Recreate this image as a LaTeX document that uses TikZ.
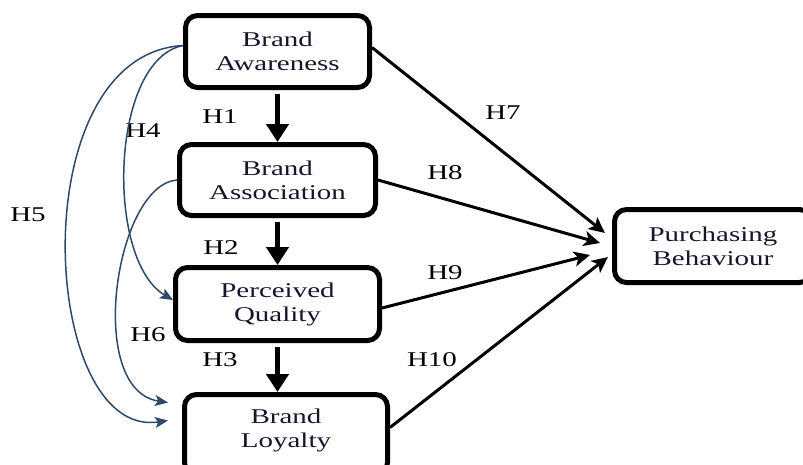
\documentclass[tikz,border=0pt]{standalone}
\usepackage{fontspec}
\setmainfont{Liberation Serif}[FakeStretch=1.38]
\usetikzlibrary{arrows.meta}
\definecolor{txtcol}{HTML}{16162A}
\definecolor{linkcol}{HTML}{2E4A6B}

\begin{document}
\begin{tikzpicture} [
    x=1pt, y=-1pt,
    block/.style    = { rectangle, rounded corners=12pt, draw, line width=5pt,
                        text centered, align=center, inner sep=0pt, text=txtcol,
                        font=\fontsize{21}{24}\selectfont },
    hyp/.style      = { inner sep=0pt, font=\fontsize{21}{24}\selectfont },
    main/.style     = { draw, line width=5pt, shorten <=4pt,
                        -{Triangle[length=18pt,width=22pt]} },
    line/.style     = { draw, line width=3pt,
                        -{Stealth[length=16pt,width=15pt,inset=4pt]} },
    link/.style     = { draw=linkcol, line width=1.5pt,
                        -{Stealth[length=13pt,width=11pt,inset=3pt]} },
  ]
  \useasboundingbox (0,0) rectangle (803,464);

  % constructs
  \node[block, minimum width=184pt, minimum height=72pt] (ba)  at (277.5,51.5) {Brand\\Awareness};
  \node[block, minimum width=196pt, minimum height=71pt] (bas) at (277.5,180)  {Brand\\Association};
  \node[block, minimum width=204pt, minimum height=73pt] (pq)  at (277.5,304)  {Perceived\\Quality};
  \node[block, minimum width=203pt, minimum height=80pt, text depth=13pt] (bl) at (286,434.5) {Brand\\Loyalty};
  \node[block, minimum width=197pt, minimum height=73pt] (pb)  at (713,246)    {Purchasing\\Behaviour};

  % hypothesis labels
  \node[hyp] (h1)  at (220,117) {H1};
  \node[hyp] (h2)  at (221,248) {H2};
  \node[hyp] (h3)  at (220,360) {H3};
  \node[hyp] (h4)  at (143,131) {H4};
  \node[hyp] (h5)  at (28,215)  {H5};
  \node[hyp] (h6)  at (148,335) {H6};
  \node[hyp] (h7)  at (503,113) {H7};
  \node[hyp] (h8)  at (445,173) {H8};
  \node[hyp] (h9)  at (445,273) {H9};
  \node[hyp] (h10) at (432,360) {H10};

  % connect the nodes
  \path [main] (ba) -- (bas);
  \path [main] (bas) -- (pq);
  \path [main] (pq.south) -- (pq.south |- bl.north);

  \path [line] ([yshift=4pt]ba.east) -- ([xshift=-7pt,yshift=13pt]pb.west);
  \path [line] (bas.east) -- ([xshift=-12pt,yshift=3pt]pb.west);
  \path [line] ([yshift=-4pt]pq.east) -- ([xshift=-22pt,yshift=-9pt]pb.west);
  \path [line] ([yshift=7pt]bl.east) -- ([xshift=-4pt,yshift=-11pt]pb.west);

  \path [link] ([yshift=6pt]ba.west) .. controls (110,60) and (105,260) .. ([yshift=4pt]pq.west);
  \path [link] ([yshift=6pt]ba.west) .. controls (20,55) and (40,440) .. ([xshift=-14pt,yshift=14pt]bl.west);
  \path [link] (bas.west) .. controls (115,185) and (85,390) .. ([xshift=-14pt,yshift=32pt]bl.west);
\end{tikzpicture}
\end{document}
